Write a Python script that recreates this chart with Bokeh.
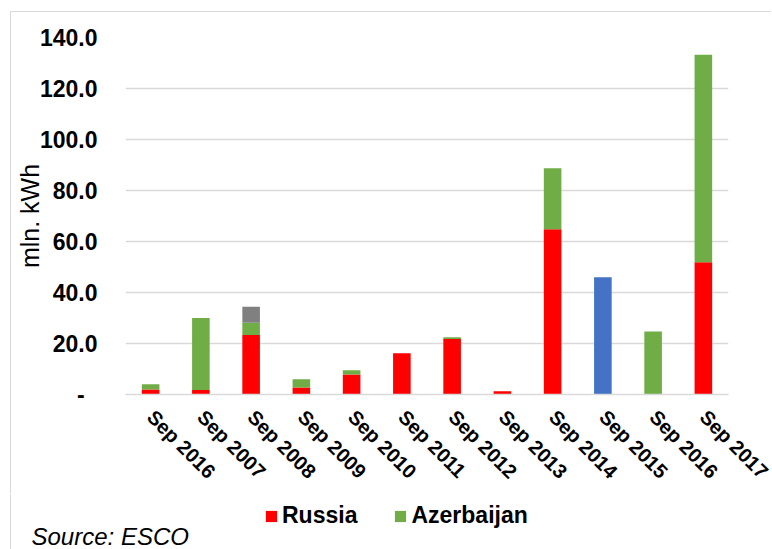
import math
from bokeh.plotting import figure
from bokeh.layouts import column
from bokeh.models import (ColumnDataSource, Range1d, FixedTicker, Legend, LegendItem, Label)
from bokeh.embed import file_html
from bokeh.resources import INLINE

# ---- data (mln. kWh) ----
labels = ["Sep 2016", "Sep 2007", "Sep 2008", "Sep 2009", "Sep 2010", "Sep 2011",
          "Sep 2012", "Sep 2013", "Sep 2014", "Sep 2015", "Sep 2016", "Sep 2017"]
russia = [2.0, 1.8, 23.3, 2.7, 7.8, 16.2, 21.8, 1.3, 64.8, 0.0, 0.1, 51.9]
azerbaijan = [2.0, 28.2, 4.8, 3.3, 1.7, 0.0, 0.7, 0.0, 23.9, 0.0, 24.6, 81.3]
series_gray = [0.0, 0.0, 6.3, 0.0, 0.0, 0.0, 0.0, 0.0, 0.0, 0.0, 0.0, 0.0]
series_blue = [0.0, 0.0, 0.0, 0.0, 0.0, 0.0, 0.0, 0.0, 0.0, 46.0, 0.0, 0.0]
y_ticks = [0, 20, 40, 60, 80, 100, 120, 140]
y_tick_labels = ["-\u2008\u2009\u200a", "20.0", "40.0", "60.0", "80.0", "100.0", "120.0", "140.0"]
legend_labels = ["Russia", "Azerbaijan"]
source_note = "Source: ESCO"

FONT = "Liberation Sans"
RED, GREEN, GRAY, BLUE = "#FF0000", "#70AD47", "#808080", "#4472C4"
GRID = "#D9D9D9"

xs = list(range(len(labels)))
source = ColumnDataSource(dict(x=xs, russia=russia, azerbaijan=azerbaijan,
                               gray=series_gray, blue=series_blue))

# ---------- main chart (page offset 11, 12; box-shadow draws the chart border) ----------
p = figure(width=761, height=482, output_backend="svg", toolbar_location=None,
           x_range=Range1d(-0.5, len(labels) - 0.5), y_range=Range1d(0, 140),
           min_border_left=114, min_border_right=44, min_border_top=25,
           min_border_bottom=100)
p.margin = (12, 0, 0, 11)
p.styles = {"box-shadow": "-1px -1px 0px 0px #D9D9D9"}
p.outline_line_color = None
p.background_fill_color = "white"
p.border_fill_color = "white"

rs = p.vbar_stack(["russia", "azerbaijan", "gray", "blue"], x="x", width=0.35,
                  fill_color=[RED, GREEN, GRAY, BLUE], line_color=None, source=source)

p.xaxis.ticker = FixedTicker(ticks=xs)
p.xaxis.major_label_overrides = {i: lab for i, lab in enumerate(labels)}
p.xaxis.major_label_orientation = -math.pi / 4
p.xaxis.major_label_text_font = FONT
p.xaxis.major_label_text_font_size = "20px"
p.xaxis.major_label_text_font_style = "bold"
p.xaxis.major_label_text_color = "black"
p.xaxis.major_tick_out = 0
p.xaxis.major_tick_in = 0
p.xaxis.major_label_standoff = 19
p.xaxis.axis_line_color = GRID
p.xaxis.axis_line_width = 1.5
p.xaxis.major_tick_line_color = None
p.xaxis.minor_tick_line_color = None

p.yaxis.ticker = FixedTicker(ticks=y_ticks)
p.yaxis.major_label_overrides = {t: lab for t, lab in zip(y_ticks, y_tick_labels)}
p.yaxis.major_label_text_font = FONT
p.yaxis.major_label_text_font_size = "23px"
p.yaxis.major_label_text_font_style = "bold"
p.yaxis.major_label_text_color = "black"
p.yaxis.major_tick_out = 0
p.yaxis.major_tick_in = 0
p.yaxis.major_label_standoff = 28
p.yaxis.axis_line_color = None
p.yaxis.major_tick_line_color = None
p.yaxis.minor_tick_line_color = None
p.yaxis.axis_label = "mln. kWh"
p.yaxis.axis_label_text_font = FONT
p.yaxis.axis_label_text_font_size = "25px"
p.yaxis.axis_label_text_font_style = "normal"
p.yaxis.axis_label_text_color = "black"
p.yaxis.axis_label_standoff = -7

p.xgrid.visible = False
p.ygrid.ticker = FixedTicker(ticks=y_ticks)
p.ygrid.grid_line_color = GRID
p.ygrid.grid_line_width = 1.5

# ---------- legend + source strip (frame = whole strip) ----------
H2 = 55
p2 = figure(width=761, height=H2, output_backend="svg", toolbar_location=None,
            x_range=Range1d(0, 761), y_range=Range1d(0, H2),
            x_axis_type=None, y_axis_type=None, min_border=0)
p2.margin = (0, 0, 0, 11)
p2.styles = {"box-shadow": "-1px 0px 0px 0px #D9D9D9"}
p2.outline_line_color = None
p2.xgrid.visible = False
p2.ygrid.visible = False
p2.background_fill_color = "white"
p2.border_fill_color = "white"
for fig in (p, p2):
    if "frame_align" in fig.properties():
        fig.frame_align = False

# legend keys: hidden copies of the two named series (only their swatches are shown)
k_ru = p2.vbar(x=xs, top=russia, width=0.35, fill_color=RED, line_color=None, visible=False)
k_az = p2.vbar(x=xs, top=azerbaijan, width=0.35, fill_color=GREEN, line_color=None, visible=False)

legend = Legend(items=[LegendItem(label=legend_labels[0], renderers=[k_ru]),
                       LegendItem(label=legend_labels[1], renderers=[k_az])],
                orientation="horizontal", location=(253, 20),
                label_text_font=FONT, label_text_font_size="23px",
                label_text_font_style="bold", label_text_color="black",
                glyph_width=14, glyph_height=14, label_standoff=4, spacing=36,
                padding=0, margin=0, border_line_color=None, background_fill_alpha=0)
p2.add_layout(legend, "center")

p2.add_layout(Label(x=20, y=13, x_units="screen", y_units="screen", text=source_note,
                    text_font=FONT, text_font_size="24px", text_font_style="italic",
                    text_color="black", text_baseline="alphabetic"))

layout = column(p, p2, spacing=0)
open("out.html", "w").write(file_html(layout, INLINE))
